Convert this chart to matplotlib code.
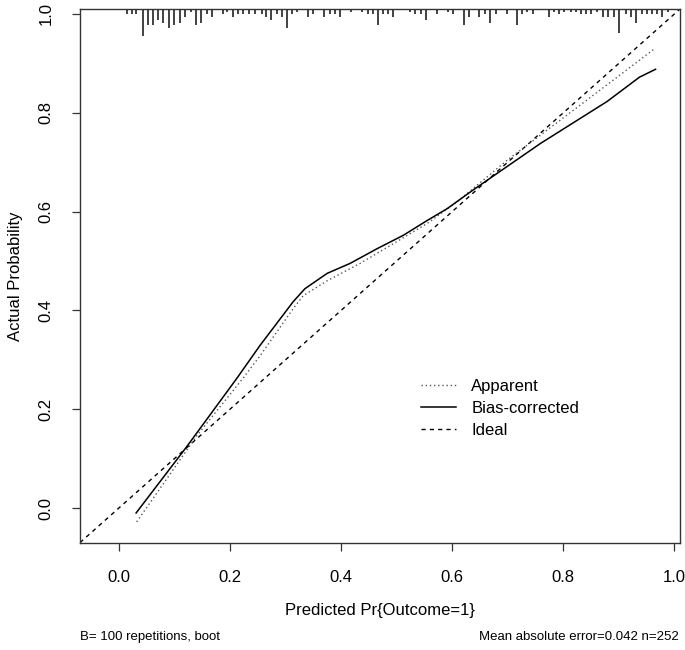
import matplotlib
matplotlib.use("Agg")
import matplotlib.pyplot as plt
import matplotlib.transforms as mtransforms

plt.rcParams['font.family'] = ['Liberation Sans', 'DejaVu Sans']

# calibration curves
app_x = [0.032, 0.080, 0.140, 0.223, 0.254, 0.314, 0.332, 0.375, 0.434, 0.494,
         0.555, 0.609, 0.699, 0.818, 0.966]
app_y = [-0.028, 0.049, 0.146, 0.262, 0.308, 0.404, 0.430, 0.460, 0.495, 0.535,
         0.576, 0.620, 0.704, 0.805, 0.931]

bc_x = [0.031, 0.122, 0.212, 0.254, 0.314, 0.335, 0.375, 0.416, 0.465, 0.512,
        0.555, 0.591, 0.638, 0.759, 0.879, 0.937, 0.966]
bc_y = [-0.010, 0.124, 0.262, 0.329, 0.418, 0.444, 0.475, 0.495, 0.525, 0.552,
        0.582, 0.606, 0.644, 0.738, 0.823, 0.872, 0.888]

# distribution of predicted risks (rug along the top)
rug_x = [0.015, 0.023, 0.031, 0.043, 0.052, 0.061, 0.071, 0.080, 0.091, 0.100,
         0.110, 0.119, 0.129, 0.139, 0.148, 0.158, 0.167, 0.187, 0.195, 0.206,
         0.215, 0.224, 0.235, 0.245,
         0.257, 0.265, 0.274, 0.284, 0.293, 0.302, 0.312, 0.321, 0.341, 0.350,
         0.370, 0.380, 0.389, 0.398, 0.417, 0.438, 0.448, 0.457, 0.466, 0.476,
         0.485, 0.494,
         0.524, 0.533, 0.544, 0.553, 0.572, 0.592, 0.601, 0.622, 0.631, 0.649,
         0.659, 0.668, 0.679, 0.699, 0.717, 0.726, 0.735, 0.745,
         0.774, 0.784, 0.793, 0.802, 0.813, 0.822, 0.831, 0.841, 0.850, 0.861,
         0.871, 0.880, 0.891, 0.901, 0.912, 0.921, 0.931, 0.941, 0.950, 0.960,
         0.969, 0.978, 0.988]
rug_n = [2, 2, 2, 10, 6, 6, 4, 5, 7, 6,
         5, 3, 1, 6, 5, 2, 3, 2, 1, 3,
         2, 2, 2, 2,
         2, 3, 4, 2, 3, 7, 2, 1, 3, 2,
         3, 2, 2, 3, 1, 1, 2, 2, 6, 2,
         2, 3,
         1, 2, 2, 4, 2, 1, 2, 6, 3, 3,
         2, 5, 2, 2, 6, 2, 1, 2,
         3, 1, 2, 1, 1, 1, 2, 2, 2, 1,
         3, 3, 3, 9, 2, 3, 5, 2, 2, 2,
         2, 3, 1]

ticks = [0.0, 0.2, 0.4, 0.6, 0.8, 1.0]
tick_labels = ["0.0", "0.2", "0.4", "0.6", "0.8", "1.0"]
lims = (-0.07, 1.01)

fig = plt.figure(figsize=(6.85, 6.5), dpi=100)
ax = fig.add_axes([80 / 685, 1 - 542.6 / 650, 600 / 685, 533.6 / 650])

ax.plot(lims, lims, color='black', lw=1.0, linestyle=(0, (3, 3)), label='Ideal')
ax.plot(app_x, app_y, color='#555555', lw=1.0, linestyle=(0, (1, 2)), label='Apparent')
ax.plot(bc_x, bc_y, color='black', lw=1.1, label='Bias-corrected')

# rug: tick length proportional to count
trans = mtransforms.blended_transform_factory(ax.transData, ax.transAxes)
unit = 2.7 / 533.6
for x, n in zip(rug_x, rug_n):
    ax.plot([x, x], [1.0, 1.0 - n * unit], color='#333333', lw=1.3,
            transform=trans, solid_capstyle='butt')

ax.set_xlim(lims)
ax.set_ylim(lims)
ax.set_xticks(ticks)
ax.set_xticklabels(tick_labels)
ax.set_yticks(ticks)
ax.set_yticklabels(tick_labels, rotation=90, va='center')
ax.tick_params(axis='both', direction='out', length=6, width=0.9,
               labelsize=12, color='#333333')
ax.tick_params(axis='x', pad=14)
ax.tick_params(axis='y', pad=13)
for s in ax.spines.values():
    s.set_linewidth(1.0)
    s.set_color('#333333')

ax.set_xlabel('Predicted Pr{Outcome=1}', fontsize=12, labelpad=13)
ax.set_ylabel('Actual Probability', fontsize=12, labelpad=11)

handles, labels = ax.get_legend_handles_labels()
order = [1, 2, 0]
ax.legend([handles[i] for i in order], [labels[i] for i in order],
          loc='upper left', bbox_to_anchor=(0.555, 0.323), frameon=False,
          fontsize=12, handlelength=2.1, handletextpad=0.9,
          labelspacing=0.42, borderpad=0)

fig.text(80 / 685, 1 - 637 / 650, 'B= 100 repetitions, boot', fontsize=9.5,
         ha='left', va='center')
fig.text(679 / 685, 1 - 637 / 650, 'Mean absolute error=0.042 n=252', fontsize=9.5,
         ha='right', va='center')

fig.savefig('out.png', dpi=100)
